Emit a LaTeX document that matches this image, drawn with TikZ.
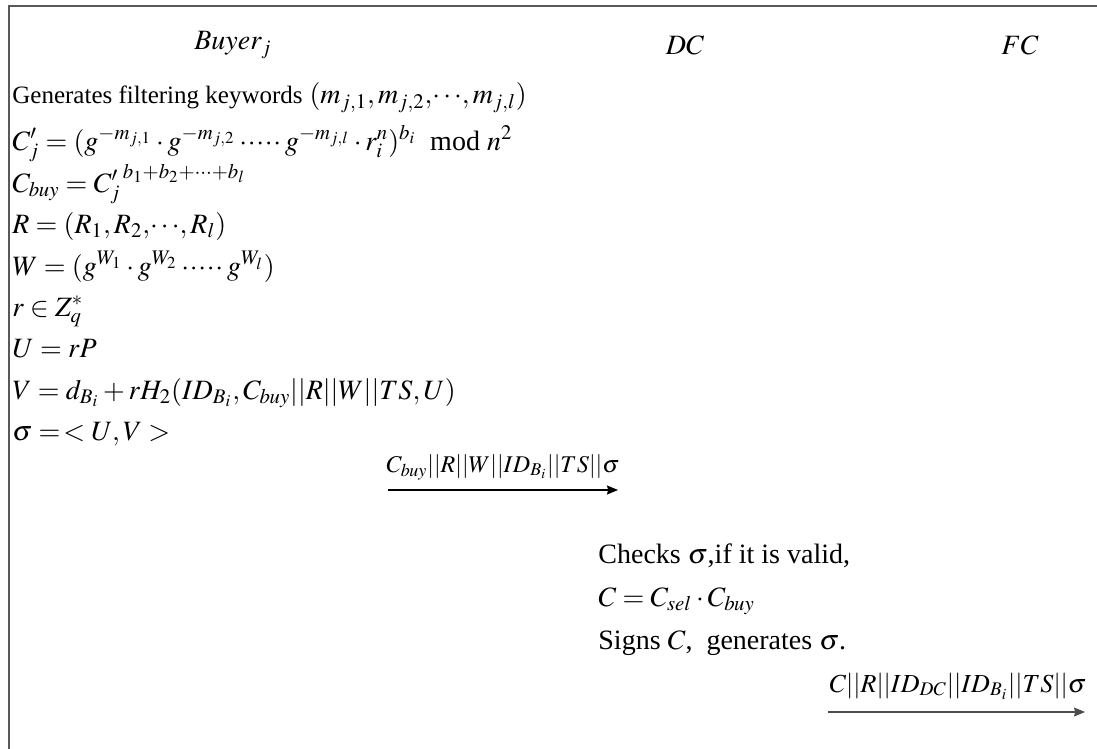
\documentclass[tikz,border=0pt]{standalone}
\usepackage{mathptmx}
\usepackage[no-math]{fontspec}
\setmainfont{Liberation Serif}
\usepackage{amsmath}
\usepackage{tikz}
\usetikzlibrary{positioning, arrows.meta}

\begin{document}
\begin{tikzpicture}[x=0.5pt, y=-0.5pt,
    party/.style={font=\fontsize{14}{16}\selectfont\itshape, inner sep=0pt},
    calc/.style={font=\fontsize{14}{16}\selectfont, anchor=base west, inner sep=0pt},
    msg/.style={font=\fontsize{12}{14}\selectfont, anchor=base, inner sep=0pt},
    send/.style={-{Stealth[length=5.5pt, width=4.5pt, inset=0.6pt]}, line width=0.6pt}]
\useasboundingbox (0,0) rectangle (1097,749);
% frame
\draw[gray!70!black, line width=1pt] (8.5,749) -- (8.5,6) -- (1097,6);

% participants
\node[party] (buyer) at (233,45) {$Buyer_j$};
\node[party] (dc) at (685,45) {$DC$};
\node[party] (fc) at (1020,45) {$FC$};

% buyer side
\node[calc] (kw) at (12,104) {{\fontsize{12.5}{15}\selectfont Generates filtering keywords} $(m_{j,1}, m_{j,2},\!\cdots\!, m_{j,l})$};
\node[calc] (cj) at (12,150) {$C'_j = (g^{-m_{j,1}}\cdot g^{-m_{j,2}}\cdot\!\cdot\!\cdot\!\cdot\!\cdot g^{-m_{j,l}}\cdot r_i^n)^{b_i}$ \ mod $n^2$};
\node[calc] (cbuy) at (12,192) {$C_{buy} = {C'_j}^{\,b_1+b_2+\cdots+b_l}$};
\node[calc] (rr) at (12,233) {$R = (R_1, R_2,\!\cdots\!, R_l)$};
\node[calc] (ww) at (12,275) {$W = (g^{W_1}\cdot g^{W_2}\cdot\!\cdot\!\cdot\!\cdot\!\cdot g^{W_l})$};
\node[calc] (rz) at (12,316) {$r \in Z_q^*$};
\node[calc] (uu) at (12,357) {$U = rP$};
\node[calc] (vv) at (12,399) {$V = d_{B_i} + rH_2(ID_{B_i}, C_{buy} || R || W || TS, U)$};
\node[calc] (sig) at (12,440) {$\sigma =\, < U ,V >$};

% message 1
\coordinate (m1s) at (388,490);
\coordinate (m1e) at (618,490);
\draw[send] (m1s) -- (m1e);
\node[msg] (m1) at (503,472) {$C_{buy} || R || W || ID_{B_i} || TS || \sigma$};

% DC side
\node[calc] (chk) at (598,563) {Checks $\sigma$,if it is valid,};
\node[calc] (cc) at (598,606) {$C = C_{sel}\cdot C_{buy}$};
\node[calc] (sgn) at (598,649) {Signs $C$, \ generates $\sigma$.};

% message 2
\coordinate (m2s) at (828,712);
\coordinate (m2e) at (1085,712);
\draw[send, gray!60!black] (m2s) -- (m2e);
\node[msg, font=\fontsize{13}{15}\selectfont] (m2) at (958,692) {$C || R || ID_{DC} || ID_{B_i} || TS || \sigma$};
\end{tikzpicture}
\end{document}
